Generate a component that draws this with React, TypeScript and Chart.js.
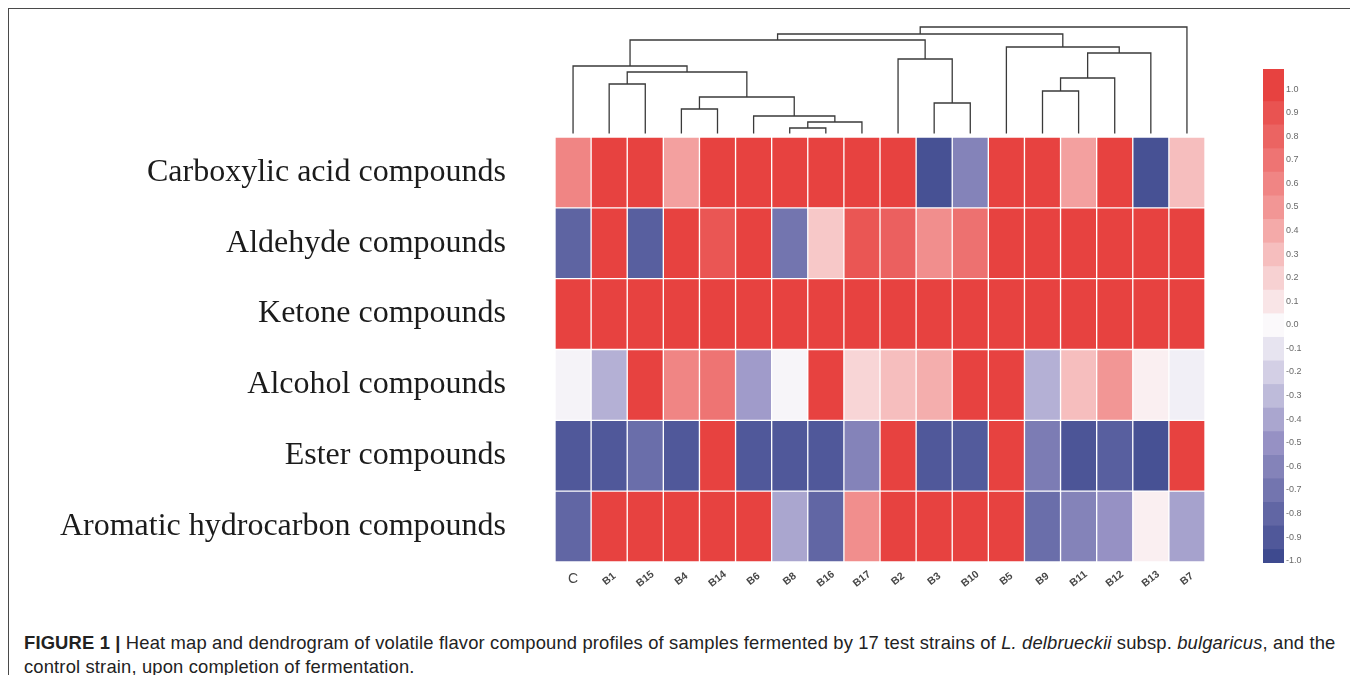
import React, { useEffect, useRef } from "react";
import { Chart, registerables } from "chart.js";

Chart.register(...registerables);

// ---------------- data ----------------
const COLUMNS = ["C", "B1", "B15", "B4", "B14", "B6", "B8", "B16", "B17", "B2", "B3", "B10", "B5", "B9", "B11", "B12", "B13", "B7"];
const ROWS = [
  "Carboxylic acid compounds",
  "Aldehyde compounds",
  "Ketone compounds",
  "Alcohol compounds",
  "Ester compounds",
  "Aromatic hydrocarbon compounds",
];

const carboxylic = [0.6, 1, 1, 0.45, 1, 1, 1, 1, 1, 1, -0.95, -0.6, 1, 1, 0.45, 1, -0.95, 0.3];
const aldehyde = [-0.82, 1, -0.85, 1, 0.88, 1, -0.7, 0.25, 0.88, 0.82, 0.55, 0.72, 1, 1, 1, 1, 1, 1];
const ketone = [1, 1, 1, 1, 1, 1, 1, 1, 1, 1, 1, 1, 1, 1, 1, 1, 1, 1];
const alcohol = [-0.03, -0.35, 1, 0.6, 0.7, -0.45, -0.02, 1, 0.18, 0.3, 0.38, 1, 1, -0.35, 0.3, 0.5, 0.05, -0.05];
const ester = [-0.9, -0.9, -0.75, -0.9, 1, -0.9, -0.9, -0.9, -0.6, 1, -0.9, -0.88, 1, -0.65, -0.92, -0.85, -0.95, 1];
const aromatic = [-0.8, 1, 1, 1, 1, 1, -0.4, -0.8, 0.55, 1, 1, 1, 1, -0.75, -0.6, -0.5, 0.05, -0.42];

const HEAT_ROWS = [carboxylic, aldehyde, ketone, alcohol, ester, aromatic];

// dendrogram merges: [left, right, height]; node k is referred to as "n" + k
const LINKS: [string, string, number][] = [
  ["B8", "B16", 0.9],
  ["n0", "B17", 1.5],
  ["B6", "n1", 2.1],
  ["B4", "B14", 2.8],
  ["n3", "n2", 4.0],
  ["B1", "B15", 5.3],
  ["n5", "n4", 6.5],
  ["C", "n6", 7.1],
  ["B3", "B10", 3.4],
  ["B2", "n8", 7.8],
  ["n7", "n9", 9.7],
  ["B9", "B11", 4.6],
  ["n11", "B12", 5.9],
  ["n12", "B13", 8.4],
  ["B5", "n13", 9.0],
  ["n10", "n14", 10.3],
  ["n15", "B7", 11.0],
];
const LEAF_BASE = 0.35;

const SCALE_TICKS = [1.0, 0.9, 0.8, 0.7, 0.6, 0.5, 0.4, 0.3, 0.2, 0.1, 0.0, -0.1, -0.2, -0.3, -0.4, -0.5, -0.6, -0.7, -0.8, -0.9, -1.0];
const SCALE_MIN = -1.01;
const SCALE_MAX = 1.085;

// ---------------- colours ----------------
const WHITE = [251, 249, 251];
const RED_MID = [242, 150, 149];
const RED = [231, 66, 64];
const BLUE_MID = [150, 145, 196];
const BLUE = [62, 74, 143];

function mix(a: number[], b: number[], t: number) {
  return a.map((v, i) => Math.round(v + (b[i] - v) * t));
}
function colorFor(v: number) {
  let c: number[];
  if (v >= 0) c = v < 0.5 ? mix(WHITE, RED_MID, v / 0.5) : mix(RED_MID, RED, (v - 0.5) / 0.5);
  else {
    const a = -v;
    c = a < 0.5 ? mix(WHITE, BLUE_MID, a / 0.5) : mix(BLUE_MID, BLUE, (a - 0.5) / 0.5);
  }
  return `rgb(${c.join(",")})`;
}

// ---------------- layout (box-relative) ----------------
const HEAT = { left: 0, top: 128, width: 1196, height: 465, axisWidth: 546, bottomPad: 40 };
const DEND = { left: 546, top: 8, width: 650, height: 120 };
const BAR = { left: 1254, top: 51, width: 52, height: 512, axisWidth: 31 };

const columnLabels = {
  id: "columnLabels",
  afterDraw(chart: any) {
    const { ctx, chartArea } = chart;
    const xs = chart.scales.x;
    COLUMNS.forEach((name, j) => {
      const x = xs.getPixelForValue(j + 0.5);
      const y = chartArea.bottom + 17;
      ctx.save();
      ctx.translate(x, y);
      if (name.length > 1) ctx.rotate((-38 * Math.PI) / 180);
      ctx.font = name.length > 1
        ? 'bold 10.5px "Liberation Sans", Arial, sans-serif'
        : '14px "Liberation Sans", Arial, sans-serif';
      ctx.fillStyle = "#474747";
      ctx.textAlign = "center";
      ctx.textBaseline = "middle";
      ctx.fillText(name, 0, 0);
      ctx.restore();
    });
  },
};

export default function App() {
  const heatRef = useRef<HTMLCanvasElement>(null);
  const dendRef = useRef<HTMLCanvasElement>(null);
  const barRef = useRef<HTMLCanvasElement>(null);

  useEffect(() => {
    const charts: Chart[] = [];

    // heat map
    const heatDatasets = COLUMNS.map((col, j) => ({
      label: col,
      data: ROWS.map(() => [j, j + 1]),
      backgroundColor: HEAT_ROWS.map((row) => colorFor(row[j])),
      borderColor: "rgba(255,255,255,0.2)",
      borderWidth: 1,
      borderSkipped: false,
      grouped: false,
      barPercentage: 1,
      categoryPercentage: 1,
    }));
    charts.push(
      new Chart(heatRef.current!, {
        type: "bar",
        data: { labels: ROWS, datasets: heatDatasets as any },
        plugins: [columnLabels],
        options: {
          indexAxis: "y",
          responsive: false,
          animation: false,
          layout: { padding: { top: 0, right: 0, bottom: HEAT.bottomPad, left: 0 } },
          plugins: { legend: { display: false }, tooltip: { enabled: false } },
          scales: {
            x: { type: "linear", min: 0, max: COLUMNS.length, display: false },
            y: {
              type: "category",
              labels: ROWS,
              grid: { display: false, drawTicks: false },
              border: { display: false },
              ticks: {
                font: { family: '"Liberation Serif", "Times New Roman", serif', size: 32 },
                color: "#1b1b1b",
                padding: 49,
                autoSkip: false,
              },
              afterFit: (s: any) => {
                s.width = HEAT.axisWidth;
                s.paddingTop = 0;
                s.paddingBottom = 0;
              },
            },
          },
        } as any,
      })
    );

    // dendrogram
    const pos: Record<string, { x: number; h: number }> = {};
    COLUMNS.forEach((c, i) => (pos[c] = { x: i + 0.5, h: LEAF_BASE }));
    const dendDatasets = LINKS.map(([a, b, h], k) => {
      const A = pos[a];
      const B = pos[b];
      pos["n" + k] = { x: (A.x + B.x) / 2, h };
      return {
        data: [
          { x: A.x, y: A.h },
          { x: A.x, y: h },
          { x: B.x, y: h },
          { x: B.x, y: B.h },
        ],
        showLine: true,
        borderColor: "#3a3a3a",
        borderWidth: 1.3,
        pointRadius: 0,
        tension: 0,
        fill: false,
      };
    });
    charts.push(
      new Chart(dendRef.current!, {
        type: "scatter",
        data: { datasets: dendDatasets as any },
        options: {
          responsive: false,
          animation: false,
          layout: { padding: 0 },
          plugins: { legend: { display: false }, tooltip: { enabled: false } },
          scales: {
            x: { type: "linear", min: 0, max: COLUMNS.length, display: false },
            y: { type: "linear", min: 0, max: 12, display: false },
          },
        } as any,
      })
    );

    // colour scale
    const barDatasets = SCALE_TICKS.map((v) => {
      const lo = Math.max(v - 0.05, SCALE_MIN);
      const hi = v >= 1 ? SCALE_MAX : v + 0.05;
      return {
        data: [[lo, hi]],
        backgroundColor: colorFor(v),
        borderWidth: 0,
        grouped: false,
        barPercentage: 1,
        categoryPercentage: 1,
      };
    });
    charts.push(
      new Chart(barRef.current!, {
        type: "bar",
        data: { labels: [""], datasets: barDatasets as any },
        options: {
          responsive: false,
          animation: false,
          layout: { padding: { top: 9, bottom: 9, left: 0, right: 0 } },
          plugins: { legend: { display: false }, tooltip: { enabled: false } },
          scales: {
            x: { display: false },
            y: {
              type: "linear",
              position: "right",
              min: SCALE_MIN,
              max: SCALE_MAX,
              grid: { display: false, drawTicks: false },
              border: { display: false },
              afterBuildTicks: (s: any) => {
                s.ticks = SCALE_TICKS.map((v) => ({ value: v }));
              },
              afterFit: (s: any) => {
                s.width = BAR.axisWidth;
                s.paddingTop = 0;
                s.paddingBottom = 0;
              },
              ticks: {
                padding: 2,
                color: "#6a6a6a",
                font: { family: '"Liberation Sans", Arial, sans-serif', size: 9 },
                callback: (v: any) => (Math.abs(v) < 1e-9 ? "0.0" : Number(v).toFixed(1)),
              },
            },
          },
        } as any,
      })
    );

    return () => charts.forEach((c) => c.destroy());
  }, []);

  const abs = (b: { left: number; top: number }) => ({
    position: "absolute" as const,
    left: b.left,
    top: b.top,
    display: "block",
  });

  return (
    <div
      style={{
        position: "relative",
        width: 1345,
        height: 674,
        border: "1px solid #4a4a4a",
        borderBottom: "none",
        marginBottom: -8,
        background: "#fff",
        overflow: "hidden",
      }}
    >
      <canvas ref={dendRef} width={DEND.width} height={DEND.height} style={abs(DEND)} />
      <canvas ref={heatRef} width={HEAT.width} height={HEAT.height} style={abs(HEAT)} />
      <canvas ref={barRef} width={BAR.width} height={BAR.height} style={abs(BAR)} />
      <div
        style={{
          position: "absolute",
          left: 15,
          top: 622,
          fontFamily: '"Liberation Sans", Arial, Helvetica, sans-serif',
          fontSize: 18.4,
          letterSpacing: "0.15px",
          lineHeight: "24px",
          color: "#222",
          whiteSpace: "nowrap",
        }}
      >
        <b>FIGURE 1 |</b> Heat map and dendrogram of volatile flavor compound profiles of samples fermented by 17 test
        strains of <i>L. delbrueckii</i> subsp. <i>bulgaricus</i>, and the
        <br />
        control strain, upon completion of fermentation.
      </div>
    </div>
  );
}
